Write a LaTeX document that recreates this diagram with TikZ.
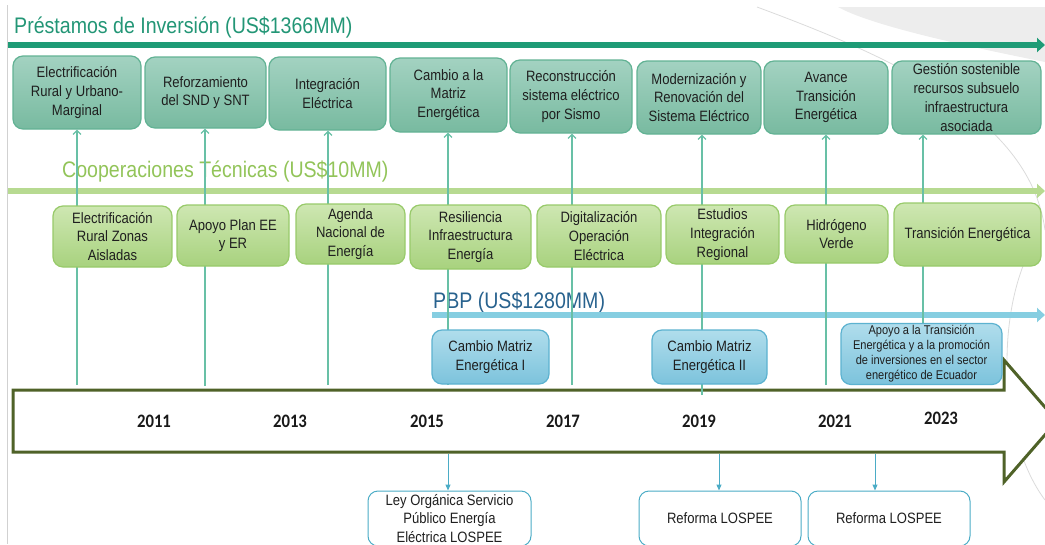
\documentclass[tikz,border=0pt]{standalone}
\usepackage{fontspec}
\setmainfont{Liberation Sans}[FakeStretch=0.87]
\newfontfamily\yearfont{Carlito}[FakeStretch=0.88]
\usetikzlibrary{arrows.meta}

\definecolor{prestgreen}{RGB}{35,150,118}
\definecolor{prestband}{RGB}{30,155,118}
\definecolor{prestboxtop}{RGB}{163,210,193}
\definecolor{prestboxbot}{RGB}{120,186,160}
\definecolor{prestedge}{RGB}{98,178,148}
\definecolor{coopgreen}{RGB}{146,196,89}
\definecolor{coopband}{RGB}{183,218,145}
\definecolor{coopboxtop}{RGB}{206,231,178}
\definecolor{coopboxbot}{RGB}{168,210,126}
\definecolor{coopedge}{RGB}{152,202,106}
\definecolor{pbpblue}{RGB}{40,98,142}
\definecolor{pbpband}{RGB}{134,206,225}
\definecolor{pbpboxtop}{RGB}{176,221,236}
\definecolor{pbpboxbot}{RGB}{124,195,220}
\definecolor{pbpedge}{RGB}{92,178,208}
\definecolor{linkteal}{RGB}{104,192,166}
\definecolor{arrowolive}{RGB}{79,98,40}
\definecolor{leyblue}{RGB}{75,172,198}

\newcommand{\boxtext}{\fontsize{15}{18.7}\selectfont}
\newcommand{\smalltext}{\fontsize{12.7}{15}\selectfont}
\newcommand{\titletext}{\fontsize{22.5}{26}\selectfont}
\newcommand{\yeartext}{\yearfont\bfseries\fontsize{19}{22}\selectfont}

\begin{document}
\begin{tikzpicture}[x=1pt, y=-1pt,
  prestbox/.style={draw=prestedge, line width=1.2pt, rounded corners=10pt, top color=prestboxtop, bottom color=prestboxbot, align=center, font=\boxtext, text=black!88, inner sep=2pt},
  coopbox/.style={draw=coopedge, line width=1.2pt, rounded corners=10pt, top color=coopboxtop, bottom color=coopboxbot, align=center, font=\boxtext, text=black!88, inner sep=2pt},
  pbpbox/.style={draw=pbpedge, line width=1.2pt, rounded corners=10pt, top color=pbpboxtop, bottom color=pbpboxbot, align=center, font=\boxtext, text=black!88, inner sep=2pt},
  leybox/.style={draw=leyblue, line width=1pt, rounded corners=10pt, fill=white, align=center, font=\boxtext, text=black!88, inner sep=2pt},
  band/.style={line width=6pt, -{Triangle[length=8pt, width=14pt]}},
  plink/.style={linkteal, line width=1.2pt, -{Straight Barb[length=4pt, width=8pt]}},
  leylink/.style={leyblue, line width=1pt, -{Triangle[length=6pt, width=5pt]}},
  title/.style={anchor=base west, font=\titletext, inner sep=0pt},
  year/.style={font=\yeartext, text=black!90}]
  \useasboundingbox (0,0) rectangle (1045,544);

  % background swoosh
  \fill[black!7] (838,7) .. controls (870,25) and (960,45) .. (1045,62) -- (1045,7) -- cycle;
  \draw[black!14, line width=0.8pt] (757,7) .. controls (900,60) and (1030,120) .. (1045,230);
  \draw[black!14, line width=0.8pt] (1030,250) .. controls (995,320) and (1000,440) .. (1045,500);
  \draw[black!18, line width=1pt] (7,5) -- (7,544);

  % timeline arrow
  \draw[arrowolive, line width=3pt, fill=white, line join=miter]
    (13,390) -- (1004,390) -- (1004,360) -- (1057,421) -- (1004,482) -- (1004,452) -- (13,452) -- cycle;

  % Prestamos de Inversion
  \node[title, text=prestgreen] (prestitle) at (14,33) {Préstamos de Inversión (US\$1366MM)};
  \coordinate (prestart) at (8,45);
  \coordinate (presend) at (1045,45);
  \draw[band, prestband] (prestart) -- (presend);

  % Cooperaciones Tecnicas
  \node[title, text=coopgreen] (cooptitle) at (62,177) {Cooperaciones Técnicas (US\$10MM)};
  \coordinate (coopstart) at (8,191);
  \coordinate (coopend) at (1045,191);
  \draw[band, coopband] (coopstart) -- (coopend);

  % PBP
  \node[title, text=pbpblue] (pbptitle) at (433,308) {PBP (US\$1280MM)};
  \coordinate (pbpstart) at (432,315);
  \coordinate (pbpend) at (1045,315);
  \draw[band, pbpband] (pbpstart) -- (pbpend);

  % prestamo boxes
  \node[prestbox, minimum width=128pt, minimum height=73pt] (p1) at (77,92.5) {Electrificación\\Rural y Urbano-\\Marginal};
  \node[prestbox, minimum width=121pt, minimum height=71pt] (p2) at (205.5,92.5) {Reforzamiento\\del SND y SNT};
  \node[prestbox, minimum width=117pt, minimum height=73pt] (p3) at (327.5,93.5) {Integración\\Eléctrica};
  \node[prestbox, minimum width=117pt, minimum height=74pt] (p4) at (448.5,95) {Cambio a la\\Matriz\\Energética};
  \node[prestbox, minimum width=122pt, minimum height=73pt] (p5) at (571,96.5) {Reconstrucción\\sistema eléctrico\\por Sismo};
  \node[prestbox, minimum width=124pt, minimum height=73pt] (p6) at (699,97.5) {Modernización y\\Renovación del\\Sistema Eléctrico};
  \node[prestbox, minimum width=124pt, minimum height=73pt] (p7) at (826,97.5) {Avance\\Transición\\Energética};
  \node[prestbox, minimum width=149pt, minimum height=73pt] (p8) at (966.5,97.5) {Gestión sostenible\\recursos subsuelo\\infraestructura\\asociada};

  % links up to the prestamo boxes
  \coordinate (e1) at (77,385);
  \coordinate (e2) at (205,386);
  \coordinate (e3) at (328,385);
  \coordinate (e4) at (448,385);
  \coordinate (e5) at (572,385);
  \coordinate (e6) at (702,395);
  \coordinate (e7) at (826,385);
  \coordinate (e8) at (923,385);
  \draw[plink] (e1) -- (e1 |- p1.south);
  \draw[plink] (e2) -- (e2 |- p2.south);
  \draw[plink] (e3) -- (e3 |- p3.south);
  \draw[plink] (e4) -- (e4 |- p4.south);
  \draw[plink] (e5) -- (e5 |- p5.south);
  \draw[plink] (e6) -- (e6 |- p6.south);
  \draw[plink] (e7) -- (e7 |- p7.south);
  \draw[plink] (e8) -- (e8 |- p8.south);

  % cooperacion boxes
  \node[coopbox, minimum width=119pt, minimum height=61pt] (c1) at (112.5,236.5) {Electrificación\\Rural Zonas\\Aisladas};
  \node[coopbox, minimum width=112pt, minimum height=61pt] (c2) at (233,235.5) {Apoyo Plan EE\\y ER};
  \node[coopbox, minimum width=109pt, minimum height=60pt] (c3) at (350.5,234) {Agenda\\Nacional de\\Energía};
  \node[coopbox, minimum width=121pt, minimum height=64pt] (c4) at (470.5,237) {Resiliencia\\Infraestructura\\Energía};
  \node[coopbox, minimum width=124pt, minimum height=62pt] (c5) at (599,236) {Digitalización\\Operación\\Eléctrica};
  \node[coopbox, minimum width=113pt, minimum height=59pt] (c6) at (722.5,234.5) {Estudios\\Integración\\Regional};
  \node[coopbox, minimum width=103pt, minimum height=58pt] (c7) at (836.5,234) {Hidrógeno\\Verde};
  \node[coopbox, minimum width=147pt, minimum height=63pt] (c8) at (967.5,234.5) {Transición Energética};

  % PBP boxes
  \node[pbpbox, minimum width=117pt, minimum height=54pt] (b1) at (490.5,357) {Cambio Matriz\\Energética I};
  \node[pbpbox, minimum width=115pt, minimum height=54pt] (b2) at (709.5,357) {Cambio Matriz\\Energética II};
  \node[pbpbox, minimum width=161pt, minimum height=60pt, font=\smalltext] (b3) at (921.5,354) {Apoyo a la Transición\\Energética y a la promoción\\de inversiones en el sector\\energético de Ecuador};

  % years
  \node[year] (y2011) at (154,421) {2011};
  \node[year] (y2013) at (290,421) {2013};
  \node[year] (y2015) at (427,421) {2015};
  \node[year] (y2017) at (563,421) {2017};
  \node[year] (y2019) at (699,421) {2019};
  \node[year] (y2021) at (835,421) {2021};
  \node[year] (y2023) at (941,418) {2023};

  % LOSPEE boxes
  \node[leybox, minimum width=163pt, minimum height=55pt] (l1) at (449.5,518.5) {Ley Orgánica Servicio\\Público Energía\\Eléctrica LOSPEE};
  \node[leybox, minimum width=162pt, minimum height=55pt] (l2) at (720,518.5) {Reforma LOSPEE};
  \node[leybox, minimum width=162pt, minimum height=55pt] (l3) at (889,518.5) {Reforma LOSPEE};

  \coordinate (a1) at (448,453.5);
  \coordinate (a2) at (719,453.5);
  \coordinate (a3) at (875,453.5);
  \draw[leylink] (a1) -- (a1 |- l1.north);
  \draw[leylink] (a2) -- (a2 |- l2.north);
  \draw[leylink] (a3) -- (a3 |- l3.north);
\end{tikzpicture}
\end{document}
